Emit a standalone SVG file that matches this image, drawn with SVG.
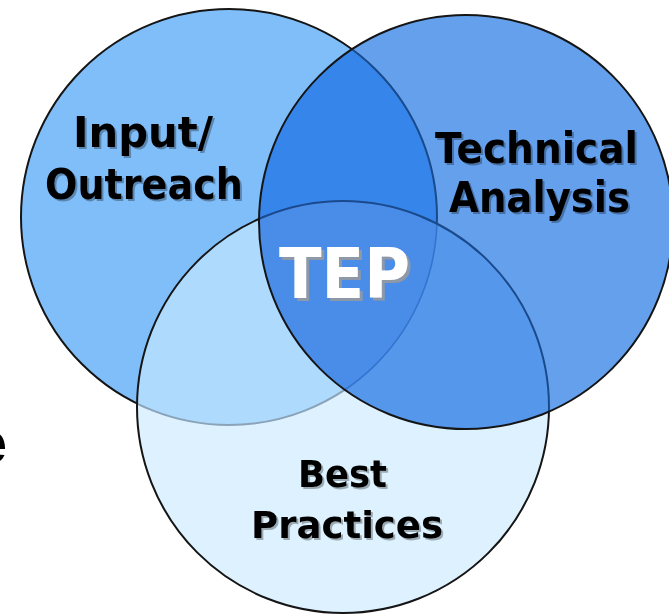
<svg xmlns="http://www.w3.org/2000/svg" width="669" height="615" viewBox="0 0 669 615">
<defs>
<style>
.lbl{font-family:"DejaVu Sans",Verdana,sans-serif;font-weight:bold;text-anchor:middle}
.ink{fill:#000;filter:url(#ds)}
.tep{fill:#fff;filter:url(#dsw)}
.edge{fill:none;stroke:#151515;stroke-width:2}
.navy{fill:none;stroke:#1a4a8c;stroke-width:2}
.gray{fill:none;stroke:#8aa3b8;stroke-width:2}
.blue{fill:none;stroke:#3474cf;stroke-width:1.6}
</style>
<filter id="ds" x="-10%" y="-20%" width="125%" height="150%">
<feFlood flood-color="#000" flood-opacity="0.3"/>
<feComposite in2="SourceAlpha" operator="in"/>
<feOffset dx="2" dy="2" result="s"/>
<feMerge><feMergeNode in="s"/><feMergeNode in="SourceGraphic"/></feMerge>
</filter>
<filter id="dsw" x="-10%" y="-20%" width="125%" height="150%">
<feFlood flood-color="#9a9a9a" flood-opacity="0.85"/>
<feComposite in2="SourceAlpha" operator="in"/>
<feOffset dx="2.5" dy="3" result="s"/>
<feMerge><feMergeNode in="s"/><feMergeNode in="SourceGraphic"/></feMerge>
</filter>
<clipPath id="cL"><circle cx="229" cy="217" r="208"/></clipPath>
<clipPath id="cR"><circle cx="466" cy="222" r="207"/></clipPath>
<clipPath id="cB"><circle cx="343" cy="407" r="206"/></clipPath>
<clipPath id="nR"><path clip-rule="evenodd" d="M-20 -20H700V640H-20Z M259 222A207 207 0 1 0 673 222A207 207 0 1 0 259 222Z"/></clipPath>
<clipPath id="nB"><path clip-rule="evenodd" d="M-20 -20H700V640H-20Z M137 407A206 206 0 1 0 549 407A206 206 0 1 0 137 407Z"/></clipPath>
</defs>
<rect width="669" height="615" fill="#fff"/>
<text x="7" y="463" text-anchor="end" font-family="Liberation Sans, Arial, sans-serif" font-weight="bold" font-size="60" fill="#000">e</text>

<g id="input-outreach">
<circle cx="229" cy="217" r="208" fill="#80befa"/>
</g>
<g id="technical-analysis">
<circle cx="466" cy="222" r="207" fill="#64a0ec"/>
</g>
<g id="best-practices">
<circle cx="343" cy="407" r="206" fill="#ddf1fe"/>
</g>
<g id="overlaps">
<circle cx="466" cy="222" r="207" fill="#3585eb" clip-path="url(#cL)"/>
<circle cx="343" cy="407" r="206" fill="#aedafe" clip-path="url(#cL)"/>
<circle cx="343" cy="407" r="206" fill="#5597eb" clip-path="url(#cR)"/>
<g clip-path="url(#cR)"><circle cx="343" cy="407" r="206" fill="#4a8de9" clip-path="url(#cL)"/></g>
</g>

<g id="connectors">
<g clip-path="url(#nR)"><circle cx="229" cy="217" r="208" class="edge" clip-path="url(#nB)"/></g>
<g clip-path="url(#nR)"><circle cx="229" cy="217" r="208" class="gray" clip-path="url(#cB)"/></g>
<g clip-path="url(#cR)"><circle cx="229" cy="217" r="208" class="navy" clip-path="url(#nB)"/></g>
<g clip-path="url(#cR)"><circle cx="229" cy="217" r="208" class="blue" clip-path="url(#cB)"/></g>
<circle cx="343" cy="407" r="206" class="edge" clip-path="url(#nR)"/>
<circle cx="343" cy="407" r="206" class="navy" clip-path="url(#cR)"/>
<circle cx="466" cy="222" r="207" class="edge"/>
</g>

<g id="labels">
<g class="lbl" font-size="43">
<text class="ink" x="143" y="147" textLength="140" lengthAdjust="spacingAndGlyphs">Input/</text>
<text class="ink" x="144" y="199" textLength="198" lengthAdjust="spacingAndGlyphs">Outreach</text>
<text class="ink" x="536.5" y="163" textLength="203" lengthAdjust="spacingAndGlyphs">Technical</text>
<text class="ink" x="539.5" y="212" textLength="181" lengthAdjust="spacingAndGlyphs">Analysis</text>
</g>
<g class="lbl" font-size="38">
<text class="ink" x="342.5" y="487" textLength="89" lengthAdjust="spacingAndGlyphs">Best</text>
<text class="ink" x="347" y="538" textLength="192" lengthAdjust="spacingAndGlyphs">Practices</text>
</g>
<g class="lbl" font-size="70">
<text class="tep" x="344.5" y="298" textLength="131" lengthAdjust="spacingAndGlyphs">TEP</text>
</g>
</g>
</svg>
